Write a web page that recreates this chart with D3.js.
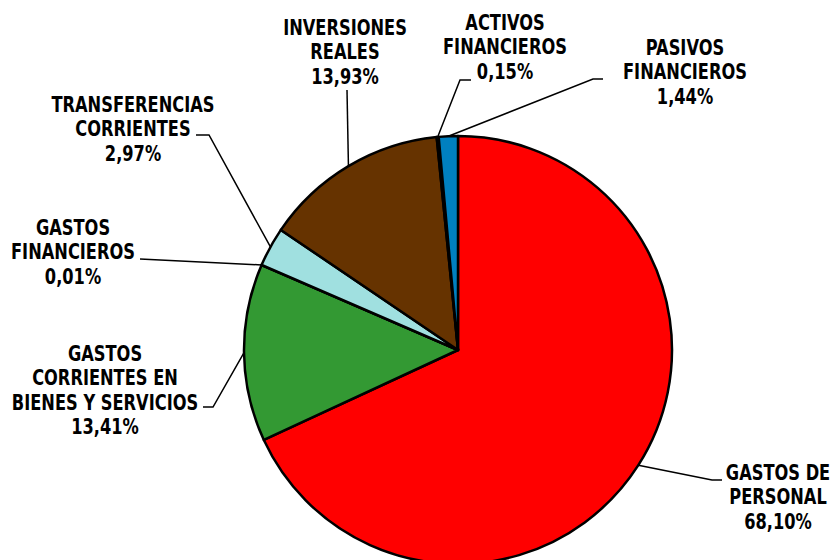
<!DOCTYPE html>
<html>
<head>
<meta charset="utf-8">
<script src="https://cdn.jsdelivr.net/npm/d3@7"></script>
<style>
  body { margin: 0; background: #fff; }
  text { font-family: "Liberation Sans Narrow", "DejaVu Sans Condensed", "Liberation Sans", sans-serif; font-weight: bold; fill: #000; }
</style>
</head>
<body>
<div id="chart"></div>
<script>
var categories = ["GASTOS DE PERSONAL", "GASTOS CORRIENTES EN BIENES Y SERVICIOS", "GASTOS FINANCIEROS",
  "TRANSFERENCIAS CORRIENTES", "INVERSIONES REALES", "ACTIVOS FINANCIEROS", "PASIVOS FINANCIEROS"];
var values = [68.10, 13.41, 0.01, 2.97, 13.93, 0.15, 1.44];
var colors = ["#ff0000", "#339933", "#c0504d", "#a0e0e0", "#663300", "#1f1f1f", "#0080c0"];
var labelLines = [
  ["GASTOS DE", "PERSONAL"],
  ["GASTOS", "CORRIENTES EN", "BIENES Y SERVICIOS"],
  ["GASTOS", "FINANCIEROS"],
  ["TRANSFERENCIAS", "CORRIENTES"],
  ["INVERSIONES", "REALES"],
  ["ACTIVOS", "FINANCIEROS"],
  ["PASIVOS", "FINANCIEROS"]
];

// label layout: text centre x, first baseline y, leader elbow points (from label side)
var labelPos = [
  { x: 778, y: 480, pts: [[722, 480], [712, 480]] },
  { x: 105, y: 361, pts: [[203, 407], [213, 407]] },
  { x: 73, y: 235, pts: [[140, 259]] },
  { x: 133, y: 112, pts: [[196, 135], [209, 135]] },
  { x: 345, y: 35, pts: [[347, 90]] },
  { x: 505, y: 30, pts: [[471, 80], [460, 80]] },
  { x: 685, y: 55, pts: [[603, 79], [593, 79]] }
];

var width = 832, height = 560;
var cx = 458, cy = 350, r = 214;
var lineH = 24.5;

var svg = d3.select("#chart").append("svg")
  .attr("width", width)
  .attr("height", height);

var pie = d3.pie().sort(null).value(function(d) { return d; });
var arcs = pie(values);
var arc = d3.arc().innerRadius(0).outerRadius(r);

var g = svg.append("g").attr("transform", "translate(" + cx + "," + cy + ")");

g.selectAll("path")
  .data(arcs)
  .enter().append("path")
  .attr("d", arc)
  .attr("fill", function(d, i) { return colors[i]; })
  .attr("stroke", "#000")
  .attr("stroke-width", 2.5)
  .attr("stroke-linejoin", "round");

var fmt = function(v) { return v.toFixed(2).replace(".", ",") + "%"; };

arcs.forEach(function(d, i) {
  // leader from label to the slice's mid point on the rim
  var a = (d.startAngle + d.endAngle) / 2;
  var ex = cx + r * Math.sin(a), ey = cy - r * Math.cos(a);
  var pts = labelPos[i].pts.concat([[ex, ey]]);
  svg.append("path")
    .attr("d", d3.line()(pts))
    .attr("fill", "none")
    .attr("stroke", "#000")
    .attr("stroke-width", 1.5);

  var t = svg.append("text")
    .attr("text-anchor", "middle")
    .attr("transform", "translate(" + labelPos[i].x + "," + labelPos[i].y + ") scale(0.86,1)")
    .style("font-size", "21px");
  var lines = labelLines[i].concat([fmt(values[i])]);
  lines.forEach(function(s, j) {
    t.append("tspan")
      .attr("x", 0)
      .attr("y", j * lineH)
      .text(s);
  });
});
</script>
</body>
</html>
